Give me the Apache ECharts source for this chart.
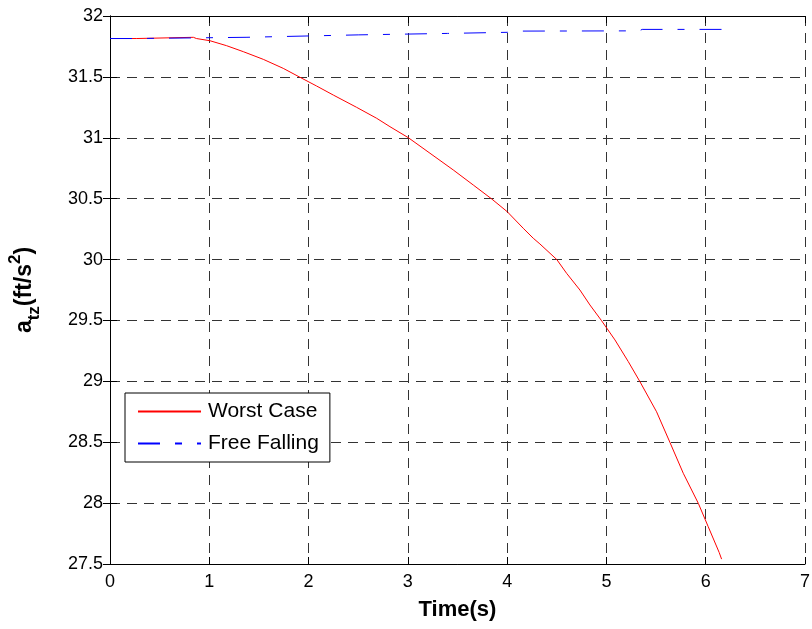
<!DOCTYPE html>
<html>
<head>
<meta charset="utf-8">
<script src="https://cdn.jsdelivr.net/npm/echarts@6/dist/echarts.min.js"></script>
<style>
  html, body { margin: 0; padding: 0; background: #fff; }
  #chartBox { width: 812px; height: 629px; }
</style>
</head>
<body>
<div id="chartBox"></div>
<script>
  // x tick values and y tick range
  var xTicks = [0, 1, 2, 3, 4, 5, 6, 7];
  var yMin = 27.5, yMax = 32, yStep = 0.5;

  // Worst Case: time (s) and a_tz (ft/s^2)
  var worstTime = [0, 0.27, 0.28, 0.84, 0.87, 1.007, 1.175, 1.343, 1.544, 1.745, 1.913, 2.081, 2.249, 2.484, 2.686,
                   2.82, 3.004, 3.223, 3.457, 3.659, 3.844, 4.001, 4.162, 4.263, 4.33, 4.5, 4.599, 4.733, 4.834,
                   4.951, 5.086, 5.22, 5.337, 5.505, 5.639, 5.774, 5.925, 6.025, 6.136, 6.16];
  var worstAcc  = [31.815, 31.815, 31.825, 31.825, 31.815, 31.797, 31.756, 31.707, 31.644, 31.57, 31.497, 31.425, 31.351, 31.25, 31.16,
                   31.091, 31.001, 30.873, 30.736, 30.612, 30.498, 30.393, 30.257, 30.175, 30.128, 30.0, 29.887, 29.75, 29.627,
                   29.498, 29.34, 29.162, 28.998, 28.75, 28.5, 28.245, 27.999, 27.807, 27.594, 27.54];

  // Free Falling
  var freeTime = [0, 0.27, 0.28, 1.37, 1.39, 2.5, 3.4, 4.0, 4.1, 5.33, 5.36, 6.16];
  var freeAcc  = [31.815, 31.815, 31.825, 31.825, 31.838, 31.845, 31.857, 31.866, 31.876, 31.878, 31.89, 31.89];

  function pairs(xs, ys) {
    var out = [];
    for (var i = 0; i < xs.length; i++) out.push([xs[i], ys[i]]);
    return out;
  }

  var fontName = "'Liberation Sans', Arial, Helvetica, sans-serif";
  var gridDash = { color: '#333', width: 1, type: [10, 7] };

  var chart = echarts.init(document.getElementById('chartBox'));

  var option = {
    animation: false,
    textStyle: { fontFamily: fontName, color: '#000' },
    grid: { left: 110, right: 7, top: 16, bottom: 65, containLabel: false, outerBoundsMode: 'none' },
    legend: {
      orient: 'vertical',
      left: 125, top: 393,
      padding: [8, 11, 8, 12],
      itemWidth: 63, itemHeight: 20, itemGap: 11,
      backgroundColor: '#fff',
      borderColor: '#000', borderWidth: 1, borderRadius: 0,
      itemStyle: { opacity: 0 },   // only the line sample, no marker
      textStyle: { fontFamily: fontName, fontSize: 21, color: '#000', lineHeight: 20, padding: [0, 0, 0, 2] },
      data: ['Worst Case', 'Free Falling']
    },
    xAxis: [
      {
        type: 'value', min: xTicks[0], max: xTicks[xTicks.length - 1], interval: 1,
        name: 'Time(s)', nameLocation: 'middle', nameGap: 35,
        nameTextStyle: { fontFamily: fontName, fontSize: 22, fontWeight: 'bold', color: '#000' },
        axisLine: { lineStyle: { color: '#000', width: 1 } },
        axisTick: { inside: true, length: 7, lineStyle: { color: '#000' } },
        axisLabel: { fontSize: 18, color: '#000', margin: 9, fontFamily: fontName },
        splitLine: { show: true, lineStyle: gridDash }
      },
      {
        type: 'value', position: 'top', min: xTicks[0], max: xTicks[xTicks.length - 1], interval: 1,
        axisLine: { show: true, lineStyle: { color: '#000', width: 1 } },
        axisTick: { show: true, inside: true, length: 7, lineStyle: { color: '#000' } },
        axisLabel: { show: false },
        splitLine: { show: false }
      }
    ],
    yAxis: [
      {
        type: 'value', min: yMin, max: yMax, interval: yStep,
        name: '{a|a}{sub|tz}{a|(ft/s}{sup|2}{a|)}',
        nameLocation: 'middle', nameGap: 67,
        nameTextStyle: {
          fontFamily: fontName, fontWeight: 'bold', color: '#000',
          rich: {
            a: { fontSize: 23, fontWeight: 'bold', fontFamily: fontName, lineHeight: 36, color: '#000' },
            sub: { fontSize: 17, fontWeight: 'bold', fontFamily: fontName, verticalAlign: 'bottom', color: '#000' },
            sup: { fontSize: 17, fontWeight: 'bold', fontFamily: fontName, verticalAlign: 'top', color: '#000' }
          }
        },
        axisLine: { show: true, lineStyle: { color: '#000', width: 1 } },
        axisTick: { show: true, inside: true, length: 7, lineStyle: { color: '#000' } },
        axisLabel: { fontSize: 18, color: '#000', margin: 7, fontFamily: fontName },
        splitLine: { show: true, lineStyle: gridDash }
      },
      {
        type: 'value', position: 'right', min: yMin, max: yMax, interval: yStep,
        axisLine: { show: true, lineStyle: { color: '#000', width: 1 } },
        axisTick: { show: true, inside: true, length: 7, lineStyle: { color: '#000' } },
        axisLabel: { show: false },
        splitLine: { show: false }
      }
    ],
    series: [
      {
        name: 'Worst Case', type: 'line',
        data: pairs(worstTime, worstAcc),
        symbol: 'none', smooth: false,
        lineStyle: { color: '#ff0000', width: 1 },
        itemStyle: { color: '#ff0000' }
      },
      {
        name: 'Free Falling', type: 'line',
        data: pairs(freeTime, freeAcc),
        symbol: 'none', smooth: false,
        lineStyle: { color: '#0000ff', width: 1, type: [22, 15, 7, 15] },
        itemStyle: { color: '#0000ff' }
      }
    ]
  };

  chart.setOption(option);
  window.onresize = chart.resize;
</script>
</body>
</html>
